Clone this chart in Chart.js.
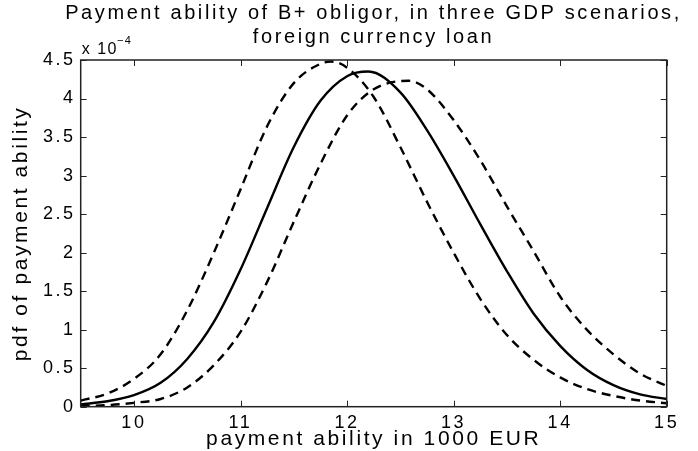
<!DOCTYPE html>
<html>
<head>
<meta charset="utf-8">
<script src="https://cdn.jsdelivr.net/npm/chart.js@4.4.1/dist/chart.umd.min.js"></script>
<style>
  html, body { margin: 0; padding: 0; background: #fff; }
</style>
</head>
<body>
<canvas id="pdf-chart" width="698" height="451"></canvas>
<script>
  // pdf values are in units of 1e-4, x in 1000 EUR
  const lowX = [9.5, 9.75, 10, 10.25, 10.5, 10.75, 11, 11.25, 11.5, 11.75, 11.85, 12, 12.25, 12.5, 12.75, 13, 13.25, 13.5, 13.75, 14, 14.25, 14.5, 14.75, 15];
  const lowPdf = [0.08, 0.17, 0.36, 0.68, 1.25, 2.0, 2.82, 3.64, 4.2, 4.45, 4.48, 4.4, 4.02, 3.37, 2.66, 2.0, 1.4, 0.93, 0.61, 0.38, 0.23, 0.14, 0.08, 0.045];

  const baseX = [9.5, 9.75, 10, 10.25, 10.5, 10.75, 11, 11.25, 11.5, 11.75, 12, 12.2, 12.5, 12.75, 13, 13.25, 13.5, 13.75, 14, 14.25, 14.5, 14.75, 15];
  const basePdf = [0.03, 0.07, 0.15, 0.31, 0.62, 1.1, 1.78, 2.58, 3.37, 3.97, 4.29, 4.35, 4.08, 3.59, 3.0, 2.37, 1.76, 1.21, 0.79, 0.48, 0.28, 0.16, 0.1];

  const highX = [9.5, 9.75, 10, 10.25, 10.5, 10.75, 11, 11.25, 11.5, 11.75, 12, 12.25, 12.58, 12.75, 13, 13.25, 13.5, 13.75, 14, 14.25, 14.5, 14.75, 15];
  const highPdf = [0.01, 0.02, 0.05, 0.1, 0.25, 0.54, 0.97, 1.62, 2.4, 3.15, 3.78, 4.12, 4.23, 4.12, 3.72, 3.2, 2.6, 2.02, 1.43, 1.0, 0.68, 0.43, 0.27];

  const xTicks = [10, 11, 12, 13, 14, 15];
  const yTicks = [0, 0.5, 1, 1.5, 2, 2.5, 3, 3.5, 4, 4.5];

  const fontFamily = "'Liberation Sans', Arial, Helvetica, sans-serif";
  const spacing = "2.6px"; // the matlab fonts run wide

  function toPoints(xs, ys) {
    return xs.map((x, i) => ({ x, y: ys[i] }));
  }

  function curve(label, xs, ys, dash) {
    return {
      label,
      data: toPoints(xs, ys),
      yAxisID: "y",
      borderColor: "#000",
      borderWidth: 2.4,
      borderDash: dash,
      pointRadius: 0,
      fill: false,
      cubicInterpolationMode: "monotone",
    };
  }

  const spacingPlugin = {
    id: "wideText",
    beforeDraw(chart) {
      chart.ctx.letterSpacing = spacing;
    },
  };

  // matlab style box with inward ticks on all four sides
  const boxPlugin = {
    id: "matlabBox",
    afterDatasetsDraw(chart) {
      const { ctx, chartArea: a, scales } = chart;
      const len = 6;
      ctx.save();
      ctx.strokeStyle = "#222";
      ctx.lineWidth = 1;
      ctx.beginPath();
      xTicks.forEach((v) => {
        const px = Math.round(scales.x.getPixelForValue(v)) + 0.5;
        ctx.moveTo(px, a.bottom); ctx.lineTo(px, a.bottom - len);
        ctx.moveTo(px, a.top); ctx.lineTo(px, a.top + len);
      });
      yTicks.forEach((v) => {
        const py = Math.round(scales.y.getPixelForValue(v)) + 0.5;
        ctx.moveTo(a.left, py); ctx.lineTo(a.left + len, py);
        ctx.moveTo(a.right, py); ctx.lineTo(a.right - len, py);
      });
      ctx.stroke();
      ctx.lineWidth = 1.5;
      ctx.strokeRect(a.left, a.top, a.right - a.left, a.bottom - a.top);

      // exponent label above the y axis
      ctx.fillStyle = "#000";
      ctx.textAlign = "left";
      ctx.textBaseline = "alphabetic";
      ctx.letterSpacing = "1.5px";
      ctx.font = `16px ${fontFamily}`;
      const base = "x 10";
      ctx.fillText(base, a.left + 1, a.top - 6);
      const w = ctx.measureText(base).width;
      ctx.font = `11px ${fontFamily}`;
      ctx.fillText("\u22124", a.left + w, a.top - 16);
      ctx.restore();
    },
  };

  new Chart(document.getElementById("pdf-chart").getContext("2d"), {
    type: "line",
    data: {
      datasets: [
        curve("low GDP", lowX, lowPdf, [9, 6]),
        curve("base GDP", baseX, basePdf, []),
        curve("high GDP", highX, highPdf, [9, 6]),
      ],
    },
    options: {
      responsive: false,
      animation: false,
      devicePixelRatio: 1,
      // negative right padding lets the full width title centre over the box
      layout: { padding: { top: 0, right: -49, bottom: 0, left: 0 } },
      plugins: {
        legend: { display: false },
        tooltip: { enabled: false },
        title: {
          display: true,
          text: ["Payment ability of B+ obligor, in three GDP scenarios,", "foreign currency loan"],
          color: "#000",
          font: { family: fontFamily, size: 20, weight: "normal", lineHeight: 1.2 },
          padding: { top: 1, bottom: 11 },
        },
      },
      scales: {
        x: {
          type: "linear",
          min: 9.5,
          max: 15,
          afterBuildTicks: (s) => { s.ticks = xTicks.map((v) => ({ value: v })); },
          afterFit: (s) => { s.height = 44.3; },
          grid: { display: false, drawTicks: false },
          border: { display: false },
          ticks: { color: "#000", padding: 6, maxRotation: 0, autoSkip: false, font: { family: fontFamily, size: 18 } },
          title: {
            display: true,
            text: "payment ability in 1000 EUR",
            color: "#000",
            font: { family: fontFamily, size: 21, lineHeight: 1.1 },
            padding: { top: 0, bottom: 0 },
          },
        },
        y: {
          type: "linear",
          position: "left",
          min: 0,
          max: 4.5,
          afterBuildTicks: (s) => { s.ticks = yTicks.map((v) => ({ value: v })); },
          afterFit: (s) => { s.width = 80.7; },
          grid: { display: false, drawTicks: false },
          border: { display: false },
          ticks: { color: "#000", padding: 5, font: { family: fontFamily, size: 18 }, callback: (v) => String(v) },
          title: {
            display: true,
            text: "pdf of payment ability",
            color: "#000",
            font: { family: fontFamily, size: 21, lineHeight: 1.1 },
            padding: { top: 10, bottom: 0 },
          },
        },
        // empty right axis only reserves the margin right of the box
        yRight: {
          type: "linear",
          position: "right",
          display: true,
          min: 0,
          max: 4.5,
          afterFit: (s) => { s.width = 80.3; },
          grid: { display: false, drawTicks: false },
          border: { display: false },
          ticks: { display: false },
        },
      },
    },
    plugins: [spacingPlugin, boxPlugin],
  });
</script>
</body>
</html>
